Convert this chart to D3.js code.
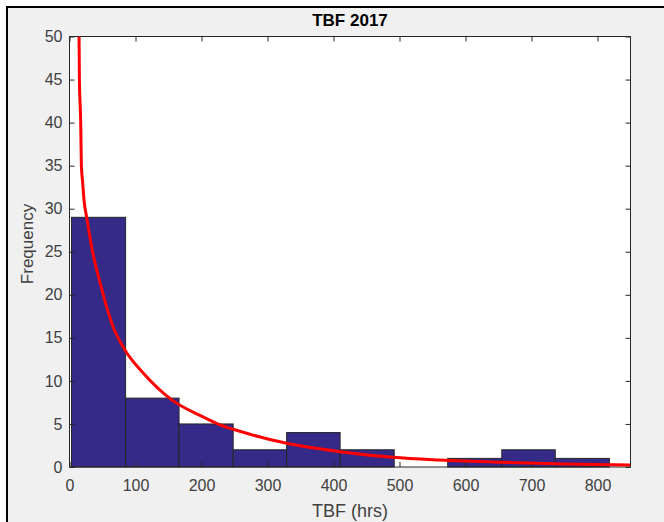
<!DOCTYPE html>
<html>
<head>
<meta charset="utf-8">
<script src="https://cdn.jsdelivr.net/npm/d3@7"></script>
<style>
  body { margin: 0; background: #fff; }
  svg { display: block; font-family: "Liberation Sans", Arial, sans-serif; }
</style>
</head>
<body>
<div id="chart"></div>
<script>
// histogram bins (TBF hours) and counts
var binEdges = [3, 85, 166, 248, 329, 410, 492, 573, 655, 736, 818];
var counts = [29, 8, 5, 2, 4, 2, 0, 1, 2, 1];

// fitted curve
var fitX = [14.5, 15, 17, 18, 20, 22, 26, 35, 46, 66, 84, 112, 155, 200, 228, 258, 329, 410, 490, 561, 652, 750, 850];
var fitY = [50, 45, 40, 35, 33, 31, 29, 25, 21.5, 16.3, 13.6, 10.9, 7.8, 5.9, 4.9, 4.15, 2.75, 1.78, 1.12, 0.81, 0.55, 0.35, 0.23];

var xTicks = [0, 100, 200, 300, 400, 500, 600, 700, 800];
var yTicks = [0, 5, 10, 15, 20, 25, 30, 35, 40, 45, 50];

var W = 664, H = 522;
// plot box edges (window.top is read-only, so no "top" here)
var pLeft = 69.5, pRight = 630.5, pTop = 36.5, pBottom = 467;

var svg = d3.select("#chart").append("svg")
    .attr("width", W)
    .attr("height", H);

// figure frame
svg.append("rect")
    .attr("x", 7).attr("y", 7)
    .attr("width", W).attr("height", H)
    .attr("fill", "#f0f0f0")
    .attr("stroke", "#000")
    .attr("stroke-width", 2);

var x = d3.scaleLinear().domain([0, 850]).range([pLeft, pRight]);
var y = d3.scaleLinear().domain([0, 50]).range([pBottom, pTop]);

svg.append("rect")
    .attr("x", pLeft).attr("y", pTop)
    .attr("width", pRight - pLeft).attr("height", pBottom - pTop)
    .attr("fill", "#fff");

svg.append("clipPath").attr("id", "plot")
  .append("rect")
    .attr("x", pLeft).attr("y", pTop)
    .attr("width", pRight - pLeft).attr("height", pBottom - pTop);

var bins = counts.map(function(c, i) { return { x0: binEdges[i], x1: binEdges[i + 1], n: c }; });

svg.append("g").selectAll("rect")
    .data(bins.filter(function(d) { return d.n > 0; }))
  .enter().append("rect")
    .attr("x", function(d) { return x(d.x0); })
    .attr("y", function(d) { return y(d.n); })
    .attr("width", function(d) { return x(d.x1) - x(d.x0); })
    .attr("height", function(d) { return y(0) - y(d.n); })
    .attr("fill", "#352a87")
    .attr("stroke", "#262626")
    .attr("stroke-width", 1);

var fit = fitX.map(function(v, i) { return [v, fitY[i]]; });
var line = d3.line()
    .x(function(d) { return x(d[0]); })
    .y(function(d) { return y(d[1]); })
    .curve(d3.curveMonotoneX);

// axes, MATLAB style: ticks inward on all four sides
function styleAxis(g) {
  g.select(".domain").remove();
  g.selectAll(".tick line").attr("stroke", "#262626");
  g.selectAll(".tick text").attr("fill", "#404040").style("font-size", "16px");
}

svg.append("g")
    .attr("transform", "translate(0," + pBottom + ")")
    .call(d3.axisBottom(x).tickValues(xTicks).tickSize(-5).tickPadding(13))
    .call(styleAxis);
svg.append("g")
    .attr("transform", "translate(0," + pTop + ")")
    .call(d3.axisTop(x).tickValues(xTicks).tickSize(-5).tickFormat(""))
    .call(styleAxis);
svg.append("g")
    .attr("transform", "translate(" + pLeft + ",0)")
    .call(d3.axisLeft(y).tickValues(yTicks).tickSize(-5).tickPadding(7))
    .call(styleAxis);
svg.append("g")
    .attr("transform", "translate(" + pRight + ",0)")
    .call(d3.axisRight(y).tickValues(yTicks).tickSize(-5).tickFormat(""))
    .call(styleAxis);

svg.append("rect")
    .attr("x", pLeft).attr("y", pTop)
    .attr("width", pRight - pLeft).attr("height", pBottom - pTop)
    .attr("fill", "none")
    .attr("stroke", "#262626")
    .attr("stroke-width", 1);

svg.append("path")
    .datum(fit)
    .attr("clip-path", "url(#plot)")
    .attr("d", line)
    .attr("fill", "none")
    .attr("stroke", "#ff0000")
    .attr("stroke-width", 3);

svg.append("text")
    .attr("x", 350).attr("y", 26)
    .attr("text-anchor", "middle")
    .style("font-size", "17px").style("font-weight", "bold")
    .attr("fill", "#000")
    .text("TBF 2017");

svg.append("text")
    .attr("x", 350).attr("y", 517)
    .attr("text-anchor", "middle")
    .style("font-size", "18px")
    .attr("fill", "#404040")
    .text("TBF (hrs)");

svg.append("text")
    .attr("transform", "translate(33,244) rotate(-90)")
    .attr("text-anchor", "middle")
    .style("font-size", "17px")
    .attr("fill", "#404040")
    .text("Frequency");
</script>
</body>
</html>
